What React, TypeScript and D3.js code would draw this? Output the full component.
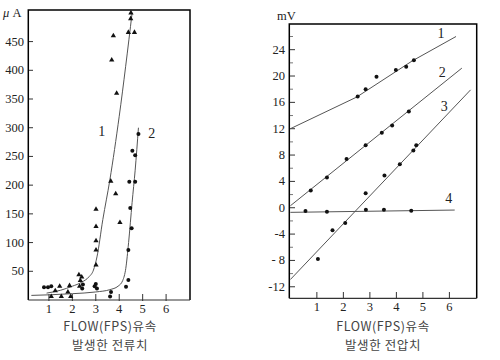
import React from "react";
import * as d3 from "d3";

// ---------- Left chart data (μA) ----------
const leftXTicks = [1, 2, 3, 4, 5, 6];
const leftYTicks = [50, 100, 150, 200, 250, 300, 350, 400, 450];

const curve1X = [0.9, 1.5, 2.0, 2.4, 2.7, 2.9, 3.05, 3.3, 3.6, 4.0, 4.55];
const curve1Y = [12, 17, 24, 31, 40, 52, 75, 140, 209, 320, 500];

const curve2X = [0.25, 1.0, 2.0, 3.0, 3.6, 3.95, 4.15, 4.28, 4.4, 4.55, 4.68, 4.82];
const curve2Y = [8, 9, 11, 14, 18, 24, 34, 55, 100, 170, 226, 300];

const triX = [1.27, 1.46, 1.1, 1.53, 1.81, 1.88, 1.93, 2.28, 2.34, 2.31, 2.4, 3.01, 3.01, 3.01, 3.01, 3.01, 3.64, 3.85, 4.03, 3.89, 3.68, 3.75, 4.39, 4.65, 4.49, 4.5];
const triY = [16, 24, 6, 6, 14, 25, 6, 44, 34, 24, 40, 61, 87, 103, 128, 158, 207, 185, 135, 360, 418, 460, 466, 466, 490, 500];

const dotX = [0.79, 0.96, 1.1, 2.42, 2.45, 2.95, 3.0, 3.05, 3.61, 3.65, 4.29, 4.39, 4.39, 4.53, 4.47, 4.43, 4.68, 4.68, 4.56, 4.82];
const dotY = [22, 22, 24, 20, 27, 24, 28, 20, 6, 14, 23, 35, 87, 125, 160, 206, 206, 252, 260, 289];

// ---------- Right chart data (mV) ----------
const rightXTicks = [1, 2, 3, 4, 5, 6];
const rightYTicks = [24, 20, 16, 12, 8, 4, 0, -4, -8, -12];
const rightYTickLabels = ["24", "20", "16", "12", "8", "4", "0", "-4", "- 8", "-12"];
const rightMinorTicks = [26, 22, 18, 14, 10, 6, 2, -2, -6, -10];

const line1X = [0, 2.5, 4.6, 6.25];
const line1Y = [12, 16.8, 22.3, 26];
const pts1X = [2.54, 2.84, 3.25, 3.98, 4.37, 4.66];
const pts1Y = [16.9, 18.0, 19.9, 20.9, 21.4, 22.4];

const line2X = [0, 6.47];
const line2Y = [0.3, 21.2];
const pts2X = [0.77, 1.38, 2.12, 2.84, 3.45, 3.84, 4.47];
const pts2Y = [2.6, 4.6, 7.4, 9.5, 11.4, 12.5, 14.6];

const line3X = [0, 6.8];
const line3Y = [-10.9, 17.9];
const pts3X = [1.04, 1.59, 2.07, 2.84, 3.55, 4.13, 4.64, 4.75];
const pts3Y = [-7.8, -3.4, -2.3, 2.2, 4.9, 6.6, 8.7, 9.5];

const line4X = [0, 6.2];
const line4Y = [-0.7, -0.35];
const pts4X = [0.57, 1.38, 2.85, 3.53, 4.56];
const pts4Y = [-0.5, -0.6, -0.3, -0.3, -0.45];

const serif = "'Liberation Serif', 'DejaVu Serif', serif";
const kr = "'Noto Sans CJK KR', 'Noto Sans', sans-serif";
const lineCol = "#555";

export default function App() {
  // Left scales
  const lx = d3.scaleLinear().domain([0.12, 7.02]).range([28.3, 190]);
  const ly = d3.scaleLinear().domain([0, 505]).range([300, 10]);
  // Right scales
  const rx = d3.scaleLinear().domain([-0.04, 7.03]).range([289.3, 476.7]);
  const ry = d3.scaleLinear().domain([-13.75, 27.9]).range([298.3, 24]);

  const lLine = d3
    .line<[number, number]>()
    .x((d) => lx(d[0]))
    .y((d) => ly(d[1]))
    .curve(d3.curveMonotoneX);
  const rLine = d3
    .line<[number, number]>()
    .x((d) => rx(d[0]))
    .y((d) => ry(d[1]));

  const zip = (a: number[], b: number[]) => a.map((v, i) => [v, b[i]] as [number, number]);
  const tri = d3.symbol().type(d3.symbolTriangle).size(12);

  const rightSeries = [
    { lx: line1X, ly: line1Y, px: pts1X, py: pts1Y },
    { lx: line2X, ly: line2Y, px: pts2X, py: pts2Y },
    { lx: line3X, ly: line3Y, px: pts3X, py: pts3Y },
    { lx: line4X, ly: line4Y, px: pts4X, py: pts4Y },
  ];

  return (
    <svg
      width={500}
      height={360}
      style={{ position: "absolute", left: 0, top: 0, background: "#fff" }}
    >
      {/* ---------------- Left chart ---------------- */}
      <g>
        <path d={`M28.3,300 L28.3,10 L190,10 L190,300`} fill="none" stroke="#000" strokeWidth={1.5} />
        <line x1={28.3} x2={190} y1={300} y2={300} stroke="#333" strokeWidth={1.2} />
        {leftYTicks.map((t) => (
          <g key={t}>
            <line x1={29} x2={33} y1={ly(t)} y2={ly(t)} stroke="#333" strokeWidth={1} />
            <text x={24} y={ly(t) + 4} textAnchor="end" fontFamily={serif} fontSize={12.5} fill="#222">
              {t}
            </text>
          </g>
        ))}
        {leftXTicks.map((t) => (
          <g key={t}>
            <line x1={lx(t)} x2={lx(t)} y1={294} y2={301} stroke="#333" strokeWidth={1} />
            <text x={lx(t)} y={313} textAnchor="middle" fontFamily={serif} fontSize={12.5} fill="#222">
              {t}
            </text>
          </g>
        ))}
        <text x={3} y={17} fontFamily={serif} fontSize={12.5} fill="#222">
          <tspan fontStyle="italic">μ</tspan> A
        </text>
        <path d={lLine(zip(curve1X, curve1Y)) || ""} fill="none" stroke={lineCol} strokeWidth={1} />
        <path d={lLine(zip(curve2X, curve2Y)) || ""} fill="none" stroke={lineCol} strokeWidth={1} />
        {triX.map((x, i) => (
          <path key={"t" + i} d={tri() || ""} transform={`translate(${lx(x)},${ly(triY[i])})`} fill="#111" />
        ))}
        {dotX.map((x, i) => (
          <circle key={"d" + i} cx={lx(x)} cy={ly(dotY[i])} r={2} fill="#111" />
        ))}
        <text x={101.7} y={136} textAnchor="middle" fontFamily={serif} fontSize={14} fill="#222">1</text>
        <text x={151.7} y={138} textAnchor="middle" fontFamily={serif} fontSize={14} fill="#222">2</text>
        <text x={110} y={331} textAnchor="middle" fontFamily={kr} fontSize={12.5} letterSpacing={0.6} fill="#444">FLOW(FPS)유속</text>
        <text x={110} y={350} textAnchor="middle" fontFamily={kr} fontSize={12.5} letterSpacing={0.6} fill="#444">발생한 전류치</text>
      </g>

      {/* ---------------- Right chart ---------------- */}
      <g>
        <path d={`M289.3,298.3 L289.3,24 L476.7,24 L476.7,298.3`} fill="none" stroke="#000" strokeWidth={1.5} />
        <line x1={289.3} x2={476.7} y1={298.3} y2={298.3} stroke="#333" strokeWidth={1.2} />
        {rightYTicks.map((t, i) => (
          <g key={t}>
            <line x1={290} x2={295} y1={ry(t)} y2={ry(t)} stroke="#333" strokeWidth={1} />
            <text x={285} y={ry(t) + 4} textAnchor="end" fontFamily={serif} fontSize={12.5} fill="#222">
              {rightYTickLabels[i]}
            </text>
          </g>
        ))}
        {rightMinorTicks.map((t) => (
          <line key={"m" + t} x1={290} x2={293} y1={ry(t)} y2={ry(t)} stroke="#555" strokeWidth={0.8} />
        ))}
        {rightXTicks.map((t) => (
          <g key={t}>
            <line x1={rx(t)} x2={rx(t)} y1={292} y2={299} stroke="#333" strokeWidth={1} />
            <text x={rx(t)} y={311} textAnchor="middle" fontFamily={serif} fontSize={12.5} fill="#222">
              {t}
            </text>
          </g>
        ))}
        <text x={277} y={20} fontFamily={serif} fontSize={12.5} fill="#222">mV</text>
        {rightSeries.map((s, k) => (
          <g key={"s" + k}>
            <path d={rLine(zip(s.lx, s.ly)) || ""} fill="none" stroke={lineCol} strokeWidth={1} />
            {s.px.map((x, i) => (
              <circle key={i} cx={rx(x)} cy={ry(s.py[i])} r={2} fill="#111" />
            ))}
          </g>
        ))}
        <text x={441} y={38} textAnchor="middle" fontFamily={serif} fontSize={14} fill="#222">1</text>
        <text x={442.3} y={76.5} textAnchor="middle" fontFamily={serif} fontSize={14} fill="#222">2</text>
        <text x={444.3} y={111} textAnchor="middle" fontFamily={serif} fontSize={14} fill="#222">3</text>
        <text x={448.7} y={203} textAnchor="middle" fontFamily={serif} fontSize={14} fill="#222">4</text>
        <text x={383} y={331} textAnchor="middle" fontFamily={kr} fontSize={12.5} letterSpacing={0.6} fill="#444">FLOW(FPS)유속</text>
        <text x={383} y={350} textAnchor="middle" fontFamily={kr} fontSize={12.5} letterSpacing={0.6} fill="#444">발생한 전압치</text>
      </g>
    </svg>
  );
}
